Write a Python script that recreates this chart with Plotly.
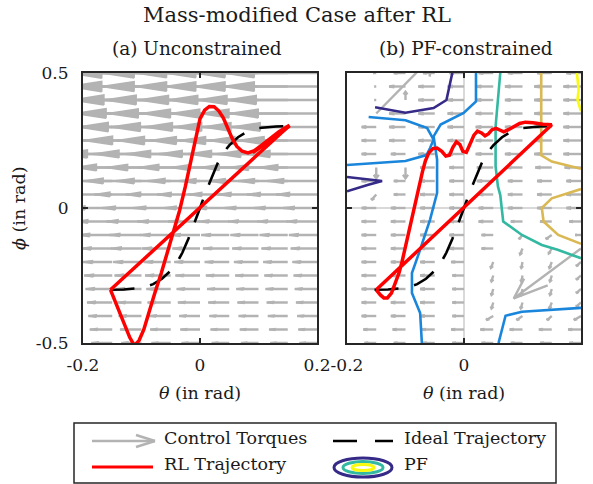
import plotly.graph_objects as go

W, H = 593, 484
L_X0, L_X1 = 83, 317
R_X0, R_X1 = 347, 581
Y_TOP, Y_BOT = 73, 343

FONT = "DejaVu Serif"
GRAY = "#b3b3b3"
FRAME = "#262626"
TXT = "#1a1a1a"

# ---------------- data ----------------
GRID_THETA = [-0.2, -0.15, -0.1, -0.05, 0.0, 0.05, 0.1, 0.15, 0.2]
GRID_PHI = [0.5, 0.45, 0.4, 0.35, 0.3, 0.25, 0.2, 0.15, 0.1, 0.05, 0.0,
            -0.05, -0.1, -0.15, -0.2, -0.25, -0.3, -0.35, -0.4, -0.45, -0.5]

# (a) unconstrained torques: all point toward -theta; length per row (at theta>=0.05) and column scale
LEFT_ROW_LEN = [0.16, 0.16, 0.155, 0.15, 0.145, 0.135, 0.12, 0.10, 0.085, 0.07, 0.058,
                0.052, 0.048, 0.045, 0.042, 0.04, 0.038, 0.036, 0.034, 0.032, 0.03]
LEFT_COL_SCALE = [1.25, 1.2, 1.15, 1.1, 1.05, 1.0, 1.0, 1.0, 1.0]

# (b) PF-constrained torques (theta component, phi component)
RIGHT_U = [
    [-.02, -.005, -.02, -.02, -.025, -.025, -.025, -.025, -.025],
    [-.025, -.003, -.028, -.028, -.028, -.03, -.03, -.03, -.03],
    [-.025, -.003, 0.0, -.028, -.028, -.03, -.03, -.03, -.03],
    [-.025, 0.10, -.028, -.028, -.028, -.03, -.03, -.03, -.03],
    [-.025, -.025, -.028, -.028, -.028, -.03, -.03, -.03, -.03],
    [-.025, -.025, -.028, -.028, -.028, -.03, -.03, -.03, -.03],
    [-.025, -.025, -.025, -.028, -.028, -.03, -.03, -.03, -.03],
    [-.025, 0.0, 0.0, -.025, -.025, -.028, -.028, -.028, -.028],
    [-.025, -.025, -.02, -.025, -.025, -.028, -.025, -.025, -.025],
    [-.02, -.008, -.02, -.025, -.025, -.025, -.025, -.025, -.025],
    [-.025, -.025, -.025, -.025, -.025, -.025, -.025, -.025, -.025],
    [-.025, -.025, -.025, -.025, -.025, -.025, -.02, -.02, -.02],
    [-.025, -.025, -.025, -.025, -.025, -.02, -.006, -.01, -.01],
    [-.025, -.025, -.025, -.025, -.025, -.02, -.004, -.005, -.115],
    [-.025, -.025, -.025, -.025, -.022, -.004, -.002, -.004, -.008],
    [-.025, -.025, -.025, -.025, -.02, -.003, -.002, -.003, -.008],
    [-.025, -.025, -.025, -.025, -.02, -.003, -.002, -.003, -.008],
    [-.025, -.025, -.025, -.025, -.02, -.003, -.003, -.004, -.008],
    [-.025, -.025, -.025, -.025, -.02, -.012, -.01, -.008, -.012],
    [-.022, -.022, -.022, -.022, -.022, -.022, -.022, -.022, -.022],
    [-.02, -.02, -.02, -.02, -.02, -.02, -.02, -.02, -.02],
]
RIGHT_V = [
    [0, 0, 0, 0, 0, 0, 0, 0, 0],
    [0, 0, 0, 0, 0, 0, 0, 0, 0],
    [0, 0, 0.03, 0, 0, 0, 0, 0, 0],
    [0, 0.22, 0, 0, 0, 0, 0, 0, 0],
    [0, 0, 0, 0, 0, 0, 0, 0, 0],
    [0, 0, 0, 0, 0, 0, 0, 0, 0],
    [0, 0, 0, 0, 0, 0, 0, 0, 0],
    [0, -0.04, -0.04, 0, 0, 0, 0, 0, 0],
    [0, 0, 0, 0, 0, 0, 0, 0, 0],
    [0, -0.02, 0, 0, 0, 0, 0, 0, 0],
    [0, 0, 0, 0, 0, 0, 0, 0, 0],
    [0, 0, 0, 0, 0, 0, 0, 0, 0],
    [0, 0, 0, 0, 0, 0, -0.015, -0.015, 0],
    [0, 0, 0, 0, 0, 0, -0.022, -0.018, -0.185],
    [0, 0, 0, 0, 0, -0.022, -0.022, -0.022, -0.015],
    [0, 0, 0, 0, 0, -0.022, -0.022, -0.022, -0.015],
    [0, 0, 0, 0, 0, -0.022, -0.022, -0.022, -0.015],
    [0, 0, 0, 0, 0, -0.022, -0.022, -0.022, -0.015],
    [0, 0, 0, 0, 0, -0.015, -0.015, -0.015, -0.015],
    [0, 0, 0, 0, 0, 0, 0, 0, 0],
    [0, 0, 0, 0, 0, 0, 0, 0, 0],
]

IDEAL_THETA = [-0.153, -0.13, -0.1, -0.08, -0.065, -0.05, -0.04, -0.03, -0.02, -0.01, 0.0,
               0.01, 0.02, 0.03, 0.04, 0.05, 0.065, 0.08, 0.1, 0.13, 0.153]
IDEAL_PHI = [-0.303, -0.302, -0.296, -0.282, -0.262, -0.232, -0.205, -0.165, -0.115, -0.06, 0.0,
             0.06, 0.115, 0.165, 0.205, 0.232, 0.262, 0.282, 0.296, 0.302, 0.303]

RL_A_THETA = [-0.153, -0.145, -0.137, -0.128, -0.12, -0.112, -0.104, -0.096, -0.088, -0.078,
              -0.066, -0.055, -0.045, -0.035, -0.025, -0.016, -0.008, 0.0, 0.008, 0.016, 0.024,
              0.032, 0.04, 0.048, 0.055, 0.063, 0.072, 0.082, 0.093, 0.105, 0.12, 0.135, 0.153,
              -0.153, None, 0.153, 0.13, 0.11, 0.09]
RL_A_PHI = [-0.303, -0.345, -0.39, -0.44, -0.48, -0.51, -0.49, -0.45, -0.39, -0.32,
            -0.24, -0.16, -0.085, -0.01, 0.08, 0.17, 0.26, 0.33, 0.362, 0.376, 0.375,
            0.36, 0.333, 0.295, 0.258, 0.228, 0.21, 0.204, 0.212, 0.232, 0.258, 0.283, 0.306,
            -0.303, None, 0.304, 0.266, 0.234, 0.205]

RL_B_THETA = [-0.150, -0.143, -0.137, -0.131, -0.124, -0.117, -0.111, -0.106, -0.1, -0.092,
              -0.085, -0.077, -0.071, -0.066, -0.06, -0.053, -0.046, -0.038, -0.031, -0.025,
              -0.019, -0.013, -0.007, -0.002, 0.004, 0.01, 0.017, 0.023, 0.03, 0.036, 0.042,
              0.048, 0.055, 0.062, 0.068, 0.076, 0.085, 0.095, 0.105, 0.118, 0.135, 0.15, -0.150]
RL_B_PHI = [-0.303, -0.322, -0.333, -0.333, -0.315, -0.278, -0.24, -0.2, -0.14, -0.068,
            0.0, 0.08, 0.135, 0.175, 0.205, 0.22, 0.222, 0.21, 0.192, 0.195,
            0.225, 0.245, 0.235, 0.21, 0.206, 0.235, 0.27, 0.285, 0.278, 0.267, 0.275,
            0.29, 0.295, 0.288, 0.282, 0.29, 0.302, 0.313, 0.318, 0.316, 0.31, 0.308, -0.303]

PF_LINES = [  # (color, theta list, phi list)
    ("#352a87", [-0.02, -0.025, -0.03, -0.052, -0.10, -0.152], [0.5, 0.45, 0.40, 0.37, 0.353, 0.373]),
    ("#352a87", [-0.2, -0.165, -0.14, -0.165, -0.2], [0.115, 0.107, 0.10, 0.085, 0.062]),
    ("#1a86db", [0.0205, 0.0205, -0.0006, -0.040, -0.052, -0.046, -0.046, -0.058, -0.077, -0.089,
                 -0.089, -0.075, -0.072],
     [0.5, 0.395, 0.352, 0.309, 0.265, 0.179, 0.056, -0.043, -0.167, -0.241, -0.315, -0.389, -0.5]),
    ("#1a86db", [-0.163, -0.1, -0.063, -0.052, -0.058, -0.064, -0.1, -0.2],
     [0.337, 0.325, 0.296, 0.253, 0.222, 0.196, 0.174, 0.159]),
    ("#1a86db", [0.059, 0.071, 0.099, 0.2], [-0.5, -0.399, -0.384, -0.37]),
    ("#33b8a1", [0.062, 0.059, 0.054, 0.054, 0.058, 0.062, 0.067, 0.099, 0.133, 0.16, 0.2],
     [0.5, 0.414, 0.302, 0.154, 0.08, 0.048, -0.05, -0.1, -0.137, -0.155, -0.186]),
    ("#dab954", [0.132, 0.132, 0.15, 0.2], [0.5, 0.195, 0.172, 0.145]),
    ("#dab954", [0.2, 0.15, 0.133, 0.136, 0.161, 0.2], [0.07, 0.036, 0.0, -0.05, -0.1, -0.133]),
    ("#f9fb0e", [0.193, 0.196, 0.194, 0.2], [0.5, 0.438, 0.401, 0.358]),
]

X_TICKS = [-0.2, 0.0, 0.2]
X_TICKTEXT = ["-0.2", "0", "0.2"]
Y_TICKS = [-0.5, 0.0, 0.5]
Y_TICKTEXT = ["-0.5", "0", "0.5"]


# ---------------- helpers ----------------
def quiver(thetas, phis, U, V, closed):
    """MATLAB-style quiver: shaft lines and head (open V or closed triangle), data units."""
    a, b = 0.33, 0.33
    sx, sy, hx, hy = [], [], [], []
    for j, p in enumerate(phis):
        for i, t in enumerate(thetas):
            u, v = U[j][i], V[j][i]
            if u == 0 and v == 0:
                continue
            sx += [t, t + u, None]
            sy += [p, p + v, None]
            x1, y1 = t + u - a * (u + b * v), p + v - a * (v - b * u)
            x2, y2 = t + u - a * (u - b * v), p + v - a * (v + b * u)
            if closed:
                hx += [x1, t + u, x2, x1, None]
                hy += [y1, p + v, y2, y1, None]
            else:
                hx += [x1, t + u, x2, None]
                hy += [y1, p + v, y2, None]
    return sx, sy, hx, hy


def px(x):
    return x / W


def py(y):
    return 1 - y / H


LEFT_U = [[-LEFT_ROW_LEN[j] * LEFT_COL_SCALE[i] for i in range(len(GRID_THETA))]
          for j in range(len(GRID_PHI))]
LEFT_V = [[0.0 for _ in GRID_THETA] for _ in GRID_PHI]

fig = go.Figure()


def add_quiver(U, V, xa, ya, width, closed):
    sx, sy, hx, hy = quiver(GRID_THETA, GRID_PHI, U, V, closed)
    fig.add_trace(go.Scatter(x=sx, y=sy, mode="lines", line=dict(color=GRAY, width=width),
                             xaxis=xa, yaxis=ya, hoverinfo="skip", showlegend=False))
    if closed:
        fig.add_trace(go.Scatter(x=hx, y=hy, mode="lines", fill="toself", fillcolor=GRAY,
                                 line=dict(color=GRAY, width=width * 0.6),
                                 xaxis=xa, yaxis=ya, hoverinfo="skip", showlegend=False))
    else:
        fig.add_trace(go.Scatter(x=hx, y=hy, mode="lines", line=dict(color=GRAY, width=width),
                                 xaxis=xa, yaxis=ya, hoverinfo="skip", showlegend=False))


# (a)
add_quiver(LEFT_U, LEFT_V, "x", "y", 2.5, True)
fig.add_trace(go.Scatter(x=IDEAL_THETA, y=IDEAL_PHI, mode="lines",
                         line=dict(color="black", width=2.6, dash="24px,16px"),
                         xaxis="x", yaxis="y", showlegend=False))
fig.add_trace(go.Scatter(x=RL_A_THETA, y=RL_A_PHI, mode="lines",
                         line=dict(color="#ff0000", width=3.5),
                         xaxis="x", yaxis="y", showlegend=False))

# (b)
add_quiver(RIGHT_U, RIGHT_V, "x2", "y2", 2.4, False)
for col, tx, ty in PF_LINES:
    fig.add_trace(go.Scatter(x=tx, y=ty, mode="lines", line=dict(color=col, width=2.6),
                             xaxis="x2", yaxis="y2", showlegend=False))
fig.add_trace(go.Scatter(x=IDEAL_THETA, y=IDEAL_PHI, mode="lines",
                         line=dict(color="black", width=2.6, dash="24px,16px"),
                         xaxis="x2", yaxis="y2", showlegend=False))
fig.add_trace(go.Scatter(x=RL_B_THETA, y=RL_B_PHI, mode="lines",
                         line=dict(color="#ff0000", width=3.5),
                         xaxis="x2", yaxis="y2", showlegend=False))

ax_common = dict(range=[-0.2, 0.2], showline=True, linecolor=FRAME, linewidth=2, mirror="ticks",
                 ticks="inside", ticklen=5, tickwidth=1.5, tickcolor=FRAME, showgrid=False,
                 tickvals=X_TICKS, ticktext=X_TICKTEXT, ticklabelstandoff=6,
                 tickfont=dict(family=FONT, size=17, color=TXT), fixedrange=True)
ay_common = dict(range=[-0.5, 0.5], showline=True, linecolor=FRAME, linewidth=2, mirror="ticks",
                 ticks="inside", ticklen=5, tickwidth=1.5, tickcolor=FRAME, showgrid=False,
                 tickvals=Y_TICKS, ticktext=Y_TICKTEXT, ticklabelstandoff=9,
                 tickfont=dict(family=FONT, size=17, color=TXT), fixedrange=True)

ydom = [py(Y_BOT), py(Y_TOP)]
fig.update_layout(
    width=W, height=H, margin=dict(l=0, r=0, t=0, b=0, autoexpand=False),
    paper_bgcolor="white", plot_bgcolor="white", showlegend=False,
    xaxis=dict(domain=[px(L_X0), px(L_X1)], anchor="y", zeroline=False, **ax_common),
    yaxis=dict(domain=ydom, anchor="x", zeroline=False, **ay_common),
    xaxis2=dict(domain=[px(R_X0), px(R_X1)], anchor="y2", zeroline=True,
                zerolinecolor="#d9d9d9", zerolinewidth=2, **ax_common),
    yaxis2=dict(domain=ydom, anchor="x2", zeroline=True, zerolinecolor="#d9d9d9",
                zerolinewidth=2, showticklabels=False, **ay_common),
)

ann = []


def text(x, y, s, size, xanchor="center", angle=0):
    ann.append(dict(x=px(x), y=py(y), xref="paper", yref="paper", text=s, showarrow=False,
                    xanchor=xanchor, yanchor="middle", textangle=angle,
                    font=dict(family=FONT, size=size, color=TXT)))


text(297, 15, "Mass-modified Case after RL", 21)
text(197, 48, "(a) Unconstrained", 18.5)
text(466, 48, "(b) PF-constrained", 18.5)
text(200, 393, "<i>θ</i> (in rad)", 17.5)
text(464, 393, "<i>θ</i> (in rad)", 17.5)
text(19, 208, "<i>ϕ</i> (in rad)", 17.5, angle=-90)
# legend texts
text(162, 438, "Control Torques", 17.5, xanchor="left")
text(402, 438, "Ideal Trajectory", 17.5, xanchor="left")
text(162, 464, "RL Trajectory", 17.5, xanchor="left")
text(402, 464, "PF", 17.5, xanchor="left")
fig.update_layout(annotations=ann)

shapes = []


def seg(x0, y0, x1, y1, color, width, dash="solid"):
    shapes.append(dict(type="line", xref="paper", yref="paper", x0=px(x0), y0=py(y0),
                       x1=px(x1), y1=py(y1), line=dict(color=color, width=width, dash=dash)))


# legend box
shapes.append(dict(type="rect", xref="paper", yref="paper", x0=px(74), x1=px(556),
                   y0=py(483), y1=py(423), line=dict(color=FRAME, width=1.5),
                   fillcolor="white", layer="below"))
# arrow sample
seg(92, 441, 155, 441, GRAY, 2.5)
seg(136, 435, 155, 441, GRAY, 2.5)
seg(136, 447, 155, 441, GRAY, 2.5)
# dashed sample
seg(333, 441, 393, 441, "black", 2.6, "24px,18px")
# red sample
seg(92, 467, 153, 467, "#ff0000", 3)
# PF ellipses
for (x0, x1, y0, y1, c) in [(334, 392, 458, 477, "#352a87"), (343, 383, 461.5, 473.5, "#33b8a1"),
                            (352, 374, 464.5, 470.5, "#f9fb0e")]:
    shapes.append(dict(type="circle", xref="paper", yref="paper", x0=px(x0), x1=px(x1),
                       y0=py(y1), y1=py(y0), line=dict(color=c, width=3)))
fig.update_layout(shapes=shapes)

fig.write_html("out.html",
               post_script="document.body.style.margin='0';document.body.style.padding='0';"
                           "document.documentElement.style.overflow='hidden';")
